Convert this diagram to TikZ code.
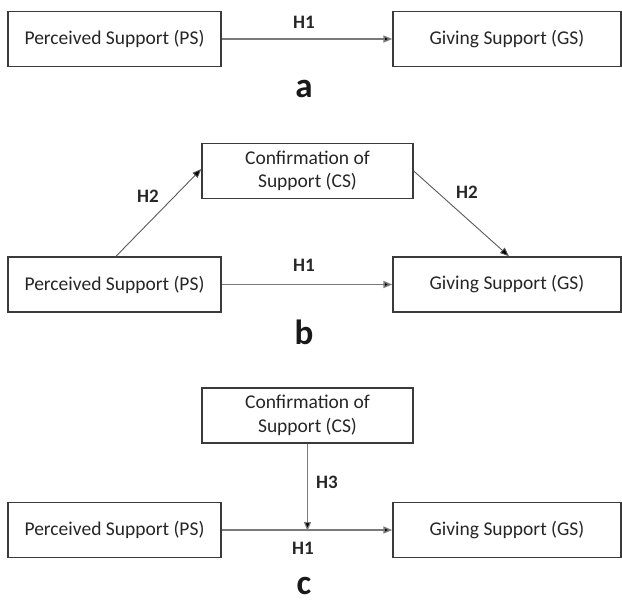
\documentclass[tikz,border=0pt]{standalone}
\usepackage{fontspec}
\setmainfont{Carlito}
\usetikzlibrary{arrows.meta}
\definecolor{boxline}{HTML}{3A3A3A}
\definecolor{arrline}{HTML}{7A7A7A}
\definecolor{diagline}{HTML}{5A5A5A}
\tikzset{
  varbox/.style={draw=boxline, line width=1.4pt, minimum height=55pt, align=center, inner sep=0pt,
     font=\fontsize{19.5}{23.5}\selectfont, text=black!85},
  psbox/.style={varbox, minimum width=213pt},
  gsbox/.style={varbox, minimum width=228pt},
  csbox/.style={varbox, minimum width=211pt},
  tip/.style={-{Triangle[length=9pt,width=7pt,fill=black]}},
  harrow/.style={draw=arrline, line width=1.5pt, tip},
  darrow/.style={draw=diagline, line width=0.9pt, tip},
  varrow/.style={draw=arrline, line width=1.2pt, tip},
  hlabel/.style={font=\bfseries\fontsize{19}{23}\selectfont, text=black!85},
  panel/.style={font=\bfseries\fontsize{35}{40}\selectfont, text=black!90, inner sep=0pt},
}
\begin{document}
\begin{tikzpicture}[x=1pt,y=-1pt]
\useasboundingbox (0,0) rectangle (622,602);
% ---- panel a
\node[psbox] (psa) at (114.5,39) {Perceived Support (PS)};
\node[gsbox] (gsa) at (507,39) {Giving Support (GS)};
\draw[harrow] (psa.east) -- (gsa.west);
\node[hlabel] (h1a) at (304,22) {H1};
\node[panel] (la) at (304,89) {a};
% ---- panel b
\node[csbox] (csb) at (307.5,171) {Confirmation of\\Support (CS)};
\node[psbox] (psb) at (114.5,284.5) {Perceived Support (PS)};
\node[gsbox] (gsb) at (507,284.5) {Giving Support (GS)};
\draw[harrow] (psb.east) -- (gsb.west);
\draw[darrow] ([xshift=1.5pt]psb.north) -- ([yshift=2pt]csb.west);
\draw[darrow] (csb.east) -- ([xshift=2pt]gsb.north);
\node[hlabel] (h1b) at (304,265) {H1};
\node[hlabel] (h2l) at (148,196) {H2};
\node[hlabel] (h2r) at (467,192) {H2};
\node[panel] (lb) at (304,332) {b};
% ---- panel c
\node[csbox] (csc) at (307.5,415.5) {Confirmation of\\Support (CS)};
\node[psbox] (psc) at (114.5,530) {Perceived Support (PS)};
\node[gsbox] (gsc) at (507,530) {Giving Support (GS)};
\draw[harrow] (psc.east) -- (gsc.west);
\draw[varrow] (csc.south) -- ([yshift=-1pt]csc.south |- psc.east);
\node[hlabel] (h3) at (327,482) {H3};
\node[hlabel] (h1c) at (303,548) {H1};
\node[panel] (lc) at (304,586) {c};
\end{tikzpicture}
\end{document}
